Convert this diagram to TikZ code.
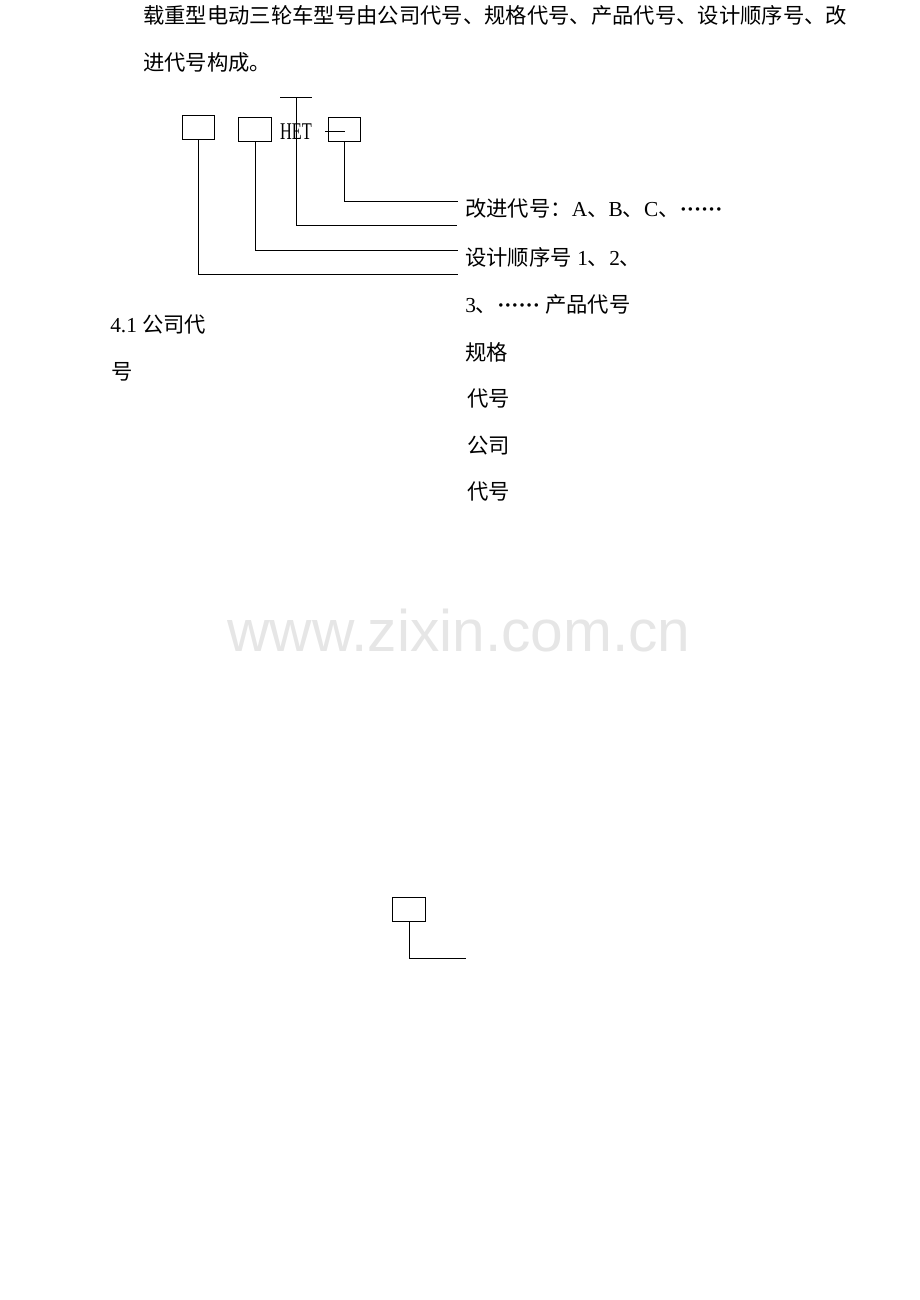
\documentclass[tikz,border=0pt]{standalone}
\usepackage{fontspec}
\setmainfont{Liberation Serif}
\newfontfamily\cjk{Noto Sans CJK SC}
\newfontfamily\narrowserif[FakeStretch=0.68]{Liberation Serif}
\newfontfamily\wmfont{Liberation Sans}
\usetikzlibrary{positioning}
\definecolor{wmgray}{RGB}{230,230,230}
\newcommand{\zh}[1]{{\cjk #1}}
\newcommand{\dotsfull}{\makebox[2em][s]{\textbf{·}\hfil\textbf{·}\hfil\textbf{·}\hfil\textbf{·}\hfil\textbf{·}\hfil\textbf{·}}}
\tikzstyle{codebox} = [rectangle, draw=black, line width=0.75pt, minimum width=24.4pt, minimum height=18.3pt, inner sep=0pt]
\tikzstyle{codetext} = [anchor=west, inner sep=0pt, font=\fontsize{16pt}{16pt}\selectfont]
\tikzstyle{leader} = [line width=0.75pt]
\begin{document}
\begin{tikzpicture}[x=0.75pt, y=-0.75pt]

    \useasboundingbox (0,0) rectangle (920,1300);

    \node (introA) [codetext] at (143,15) {\zh{载重型电动三轮车型号由公司代号、规格代号、产品代号、设计顺序号、改}};
    \node (introB) [codetext] at (143,62) {\zh{进代号构成。}};

    \node (company) [codebox] at (198.5,127.2) {};
    \node (spec) [codebox] at (255,129.5) {};
    \node (het) [inner sep=0pt, font=\fontsize{18pt}{18pt}\narrowserif] at (296,132) {HET};
    \node (improve) [codebox] at (344.3,129.5) {};

    \coordinate (tickL) at (280,97);
    \coordinate (tickR) at (312,97);
    \coordinate (tickM) at (296,97);
    \coordinate (dashL) at (325,131);
    \coordinate (dashR) at (345,131);

    \coordinate (improveEnd) at (458,201);
    \coordinate (productEnd) at (457,225);
    \coordinate (seqEnd) at (458,250);
    \coordinate (companyEnd) at (458,274);

    \node (improveText) [codetext] at (465,208) {\zh{改进代号：}A\zh{、}B\zh{、}C\zh{、}\dotsfull};
    \node (seqText) [codetext] at (465,257) {\zh{设计顺序号} 1\zh{、}2\zh{、}};
    \node (seqMore) [codetext] at (465,304) {3\zh{、}\dotsfull{} \zh{产品代号}};
    \node (specA) [codetext] at (465,352) {\zh{规格}};
    \node (specB) [codetext] at (467,399) {\zh{代号}};
    \node (companyA) [codetext] at (467,446) {\zh{公司}};
    \node (companyB) [codetext] at (467,492) {\zh{代号}};

    \node (sectionA) [codetext] at (110,325) {4.1 \zh{公司代}};
    \node (sectionB) [codetext] at (111,372) {\zh{号}};

    \node (watermark) [inner sep=0pt, text=wmgray, font=\fontsize{44pt}{44pt}\wmfont] at (459,631) {www.zixin.com.cn};

    \node (extra) [codebox] at (409,909.5) {};
    \coordinate (extraEnd) at (466,958);

    \draw [leader] (tickL) -- (tickR);
    \draw [leader] (tickM) |- (productEnd);
    \draw [leader] (dashL) -- (dashR);
    \draw [leader] (improve.south) |- (improveEnd);
    \draw [leader] (spec.south) |- (seqEnd);
    \draw [leader] (company.south) |- (companyEnd);
    \draw [leader] (extra.south) |- (extraEnd);

\end{tikzpicture}
\end{document}
